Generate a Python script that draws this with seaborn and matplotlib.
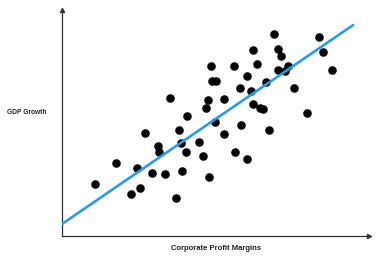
import matplotlib
matplotlib.use("Agg")
import matplotlib.pyplot as plt
import seaborn as sns
import pandas as pd

profit_margin = [10.7, 17.6, 22.5, 24.4, 25.4, 27.0, 29.3, 31.3, 31.6, 33.6,
                 35.2, 37.1, 38.1, 38.8, 39.1, 40.4, 40.7, 44.6, 45.9, 46.9,
                 47.6, 47.9, 48.5, 48.9, 50.2, 49.8, 52.8, 52.8, 56.0, 56.4,
                 58.0, 58.3, 60.3, 60.3, 61.6, 62.2, 62.2, 63.5, 64.5, 65.5,
                 66.4, 67.4, 69.1, 70.4, 71.3, 70.4, 72.6, 73.6, 75.6, 79.8,
                 83.7, 85.0, 87.9]
gdp_growth = [22.8, 32.2, 18.4, 29.9, 21.1, 45.5, 27.7, 39.7, 37.0, 27.3,
              61.0, 16.6, 46.8, 41.0, 28.6, 37.0, 53.0, 41.5, 35.3, 56.5,
              60.1, 25.9, 75.2, 68.5, 68.5, 50.3, 60.5, 45.0, 75.2, 37.0,
              65.4, 49.0, 70.7, 33.9, 64.1, 82.3, 58.3, 76.1, 56.5, 56.1,
              68.1, 46.8, 89.4, 82.7, 79.6, 73.4, 72.9, 75.2, 65.4, 54.3,
              88.0, 81.4, 73.4]
trend_x = [0.0, 94.8]
trend_y = [5.1, 93.3]

x_label = "Corporate Profit Margins"
y_label = "GDP Growth"

sns.set_style("white")
plt.rcParams["font.family"] = ["Liberation Sans", "DejaVu Sans"]

df = pd.DataFrame({"x": profit_margin, "y": gdp_growth})
trend = pd.DataFrame({"x": trend_x, "y": trend_y})

fig = plt.figure(figsize=(3.8, 2.59), dpi=100)
ax = fig.add_axes([62/380, (259-235.5)/259, (369-62)/380, (235.5-10)/259])

sns.scatterplot(data=df, x="x", y="y", ax=ax, color="black", s=38,
                edgecolor="black", linewidth=0, zorder=2)
sns.lineplot(data=trend, x="x", y="y", ax=ax, color="#2a9be6", linewidth=1.9,
             zorder=3)

ax.set_xlim(0, 100)
ax.set_ylim(0, 100)
ax.set_xticks([])
ax.set_yticks([])
ax.set_xlabel("")
ax.set_ylabel("")
for side in ["top", "right"]:
    ax.spines[side].set_visible(False)
for side in ["left", "bottom"]:
    ax.spines[side].set_color("#333333")
    ax.spines[side].set_linewidth(0.9)

ax.plot([1], [0], marker=">", color="#333333", markersize=3,
        transform=ax.transAxes, clip_on=False)
ax.plot([0], [1], marker="^", color="#333333", markersize=3,
        transform=ax.transAxes, clip_on=False)

fig.text(216/380, 1 - 249/259, x_label, ha="center", va="center",
         fontsize=5.5, fontweight="bold", color="#222222")
fig.text(27/380, 1 - 113/259, y_label, ha="center", va="center",
         fontsize=4.8, fontweight="bold", color="#222222")

fig.savefig("out.png", dpi=100)
